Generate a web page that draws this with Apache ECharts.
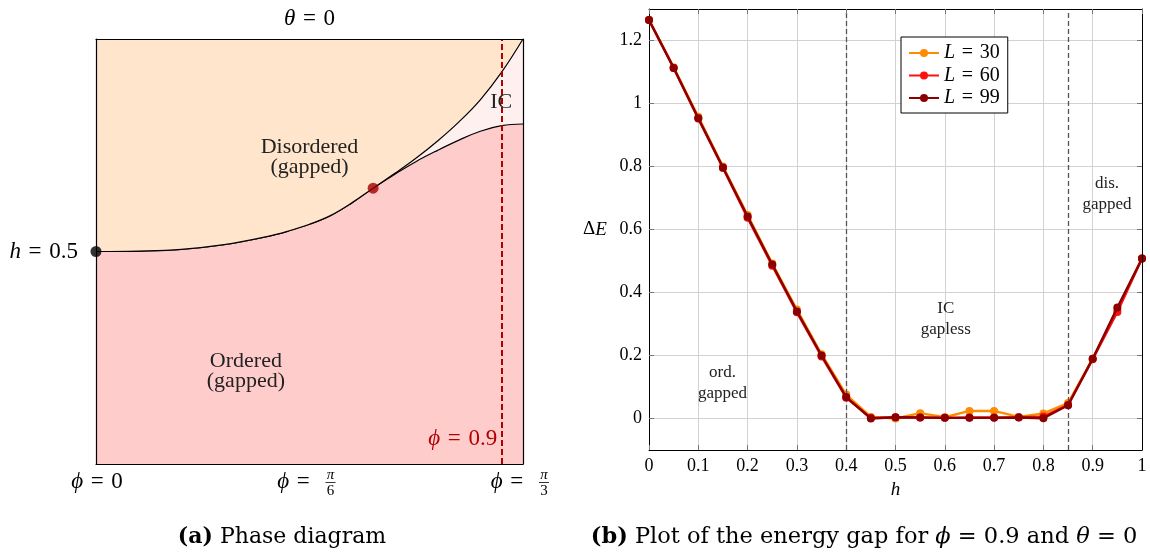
<!DOCTYPE html>
<html>
<head>
<meta charset="utf-8">
<script src="https://cdn.jsdelivr.net/npm/echarts@6/dist/echarts.min.js"></script>
<style>
  html, body { margin: 0; padding: 0; background: #fff; }
  #chart { width: 1150px; height: 553px; }
</style>
</head>
<body>
<div id="chart"></div>
<script>
// ---- Phase diagram (schematic coordinates: phi axis 0 -> pi/3 mapped to 0 -> 1, h from 0 to 1)
const phaseCommon = [[0, 0.5], [0.1, 0.501], [0.2, 0.505], [0.3, 0.516], [0.4, 0.535], [0.45, 0.548], [0.5, 0.564], [0.55, 0.585], [0.6, 0.615], [0.649, 0.649]];
const upperBranch = [[0.70, 0.684], [0.75, 0.720], [0.80, 0.760], [0.85, 0.805], [0.90, 0.857], [0.95, 0.922], [1.0, 1.0]];
const lowerBranch = [[0.70, 0.682], [0.75, 0.712], [0.80, 0.738], [0.85, 0.762], [0.90, 0.783], [0.95, 0.796], [1.0, 0.80]];
const isingPoint = [0, 0.5];
const criticalPoint = [0.649, 0.649];
const cutPhi = 0.949;

// ---- Energy gap vs h at phi = 0.9, theta = 0
const hValues = [0, 0.05, 0.1, 0.15, 0.2, 0.25, 0.3, 0.35, 0.4, 0.45, 0.5, 0.55, 0.6, 0.65, 0.7, 0.75, 0.8, 0.85, 0.9, 0.95, 1.0];
const gapL30 = [1.265, 1.115, 0.958, 0.800, 0.646, 0.492, 0.346, 0.204, 0.076, 0.005, 0.000, 0.017, 0.004, 0.024, 0.024, 0.005, 0.016, 0.049, 0.190, 0.345, 0.508];
const gapL60 = [1.265, 1.113, 0.952, 0.795, 0.637, 0.485, 0.337, 0.197, 0.066, 0.002, 0.004, 0.003, 0.002, 0.003, 0.003, 0.004, 0.006, 0.043, 0.188, 0.338, 0.508];
const gapL99 = [1.265, 1.113, 0.953, 0.797, 0.641, 0.489, 0.340, 0.200, 0.068, 0.000, 0.004, 0.003, 0.002, 0.002, 0.002, 0.003, 0.001, 0.042, 0.190, 0.352, 0.508];
const sizeNames = ['L = 30', 'L = 60', 'L = 99'];
const sizeColors = ['#FF8C00', '#FF1010', '#8B0000'];
const gapTicks = [0, 0.2, 0.4, 0.6, 0.8, 1, 1.2];
const phaseBoundaries = [0.4, 0.85];

const SERIF = "'Liberation Serif', 'DejaVu Serif', serif";
const CAPTION = "'DejaVu Serif', 'Liberation Serif', serif";
const EQ = '\u2004=\u2004';
const fmt = v => String(+v.toFixed(2));

const chart = echarts.init(document.getElementById('chart'), null, { renderer: 'canvas' });

function frameAxis(extra) {
  return Object.assign({
    type: 'value', z: 10,
    axisLine: { show: true, onZero: false, lineStyle: { color: '#000', width: 1.2 } },
    axisTick: { show: false }, axisLabel: { show: false }, splitLine: { show: false }
  }, extra);
}
function boxAxis(extra) {
  return Object.assign({
    type: 'value', z: 10,
    axisLine: { show: true, onZero: false, lineStyle: { color: '#000', width: 1 } },
    axisTick: { show: true, inside: true, length: 5, lineStyle: { color: '#777' } },
    axisLabel: { show: false }, splitLine: { show: false }
  }, extra);
}

const gapSeries = [gapL30, gapL60, gapL99].map((vals, i) => ({
  type: 'line',
  name: sizeNames[i],
  xAxisIndex: 2, yAxisIndex: 2,
  data: hValues.map((h, j) => [h, vals[j]]),
  symbol: 'circle', symbolSize: 8,
  itemStyle: { color: sizeColors[i] },
  lineStyle: { color: sizeColors[i], width: 2.4 },
  z: 3 + i
}));
gapSeries[2].markLine = {
  silent: true, symbol: 'none', label: { show: false },
  lineStyle: { color: '#555', type: [5, 3], width: 1.3 },
  data: phaseBoundaries.map(x => ({ xAxis: x }))
};

const option = {
  animation: false,
  grid: [
    { left: 96, top: 39, width: 427, height: 425, show: true, backgroundColor: '#FFF0F0', borderWidth: 0 },
    { left: 649, top: 9, width: 493, height: 441 }
  ],
  xAxis: [
    frameAxis({ gridIndex: 0, min: 0, max: 1, position: 'bottom' }),
    frameAxis({ gridIndex: 0, min: 0, max: 1, position: 'top' }),
    {
      gridIndex: 1, type: 'value', min: 0, max: 1, interval: 0.1, position: 'bottom',
      axisLine: { show: true, onZero: false, lineStyle: { color: '#000', width: 1 } },
      axisTick: { show: true, inside: true, length: 5, lineStyle: { color: '#777' } },
      axisLabel: { color: '#000', fontFamily: SERIF, fontSize: 18, margin: 7, formatter: fmt },
      splitLine: { show: true, lineStyle: { color: '#d2d2d2', width: 1 } }
    },
    boxAxis({ gridIndex: 1, min: 0, max: 1, interval: 0.1, position: 'top' })
  ],
  yAxis: [
    frameAxis({ gridIndex: 0, min: 0, max: 1, position: 'left' }),
    frameAxis({ gridIndex: 0, min: 0, max: 1, position: 'right' }),
    {
      gridIndex: 1, type: 'value', min: -0.1, max: 1.3, position: 'left',
      axisLine: { show: true, onZero: false, lineStyle: { color: '#000', width: 1 } },
      axisTick: { show: true, inside: true, length: 5, customValues: gapTicks, lineStyle: { color: '#777' } },
      axisLabel: { color: '#000', fontFamily: SERIF, fontSize: 18, margin: 7, customValues: gapTicks, formatter: fmt },
      splitLine: { show: true, lineStyle: { color: '#d2d2d2', width: 1 } }
    },
    boxAxis({
      gridIndex: 1, min: -0.1, max: 1.3, position: 'right',
      axisTick: { show: true, inside: true, length: 5, customValues: gapTicks, lineStyle: { color: '#777' } }
    })
  ],
  legend: {
    data: sizeNames,
    orient: 'vertical',
    left: 901, top: 37,
    padding: [6, 8, 5, 7],
    itemGap: 2.5,
    itemWidth: 30, itemHeight: 10,
    backgroundColor: '#fff',
    borderColor: '#000', borderWidth: 1, borderRadius: 0,
    textStyle: {
      fontFamily: SERIF, fontSize: 20, color: '#000', lineHeight: 20,
      rich: { i: { fontFamily: SERIF, fontSize: 20, fontStyle: 'italic', color: '#000' } }
    },
    formatter: name => '{i|L}' + EQ + name.split('= ')[1]
  },
  series: [
    {
      type: 'line', name: 'ordered', xAxisIndex: 0, yAxisIndex: 0,
      data: phaseCommon.concat(lowerBranch),
      smooth: 0.4, symbol: 'none',
      lineStyle: { color: '#000', width: 1.2 },
      areaStyle: { color: '#FFCCCC', origin: 'start', opacity: 1 },
      z: 2
    },
    {
      type: 'line', name: 'disordered', xAxisIndex: 0, yAxisIndex: 0,
      data: phaseCommon.concat(upperBranch),
      smooth: 0.4, symbol: 'none',
      lineStyle: { color: '#000', width: 1.2 },
      areaStyle: { color: '#FFE5CC', origin: 'end', opacity: 1 },
      markLine: {
        silent: true, symbol: 'none', label: { show: false },
        lineStyle: { color: '#B00000', type: [6, 3], width: 2 },
        data: [{ xAxis: cutPhi }]
      },
      z: 3
    },
    {
      type: 'scatter', xAxisIndex: 0, yAxisIndex: 0, symbolSize: 11, z: 6,
      data: [
        { value: isingPoint, itemStyle: { color: '#000' } },
        { value: criticalPoint, itemStyle: { color: '#A00000' } }
      ]
    }
  ].concat(gapSeries)
};

chart.setOption(option);

// ---- Text annotations placed through the grid coordinate systems
const px = (g, x, y) => chart.convertToPixel({ gridIndex: g }, [x, y]);
const mathRich = {
  i: { fontFamily: SERIF, fontStyle: 'italic', fontSize: 23, fill: '#000' },
  r: { fontFamily: SERIF, fontSize: 23, fill: '#000' }
};
function txt(x, y, text, style) {
  return { type: 'text', x: x, y: y, silent: true, z: 20, style: Object.assign({
    text: text, align: 'center', verticalAlign: 'middle', fill: '#000', fontFamily: SERIF, fontSize: 21
  }, style || {}) };
}
function phiLabel(cx, cy, denom) {
  const items = [];
  if (denom === null) {
    items.push(txt(cx + 1, cy, '{i|ϕ}{r|' + EQ + '0}', { rich: mathRich }));
  } else {
    items.push(txt(cx + 8, cy, '{i|ϕ}{r|' + EQ + '}', { rich: mathRich, align: 'right' }));
    const fx = cx + 21;
    items.push(txt(fx, cy - 7, 'π', { fontSize: 15, fontStyle: 'italic' }));
    items.push({ type: 'line', silent: true, z: 20, shape: { x1: fx - 5, y1: cy + 0.5, x2: fx + 5, y2: cy + 0.5 }, style: { stroke: '#000', lineWidth: 0.8 } });
    items.push(txt(fx, cy + 9, denom, { fontSize: 15 }));
  }
  return items;
}

const pTop = px(0, 0.5, 1);
const pHalf = px(0, 0, 0.5);
const p0 = px(0, 0, 0);
const p6 = px(0, 0.5, 0);
const p3 = px(0, 1, 0);
const pDis = px(0, 0.5, 0.722);
const pOrd = px(0, 0.351, 0.219);
const pIC = px(0, cutPhi, 0.852);
const pCut = px(0, cutPhi, 0.06);
const labelY = p0[1] + 18;

const qOrd = px(1, 0.149, 0.114);
const qIC = px(1, 0.602, 0.315);
const qDis = px(1, 0.929, 0.714);
const qMid = px(1, 0.5, 0.6);
const qBot = px(1, 0.5, -0.1);
const qLeft = px(1, 0, 0.6);

const annotRich = { fontSize: 17, fill: '#222', lineHeight: 21 };

const graphic = [
  txt(pTop[0], pTop[1] - 20, '{i|θ}{r|' + EQ + '0}', { rich: mathRich }),
  txt(pHalf[0] - 18, pHalf[1], '{i|h}{r|' + EQ + '0.5}', { rich: mathRich, align: 'right' }),
  txt(pDis[0], pDis[1], 'Disordered\n(gapped)', { fontSize: 22, lineHeight: 20, fill: '#222' }),
  txt(pOrd[0], pOrd[1], 'Ordered\n(gapped)', { fontSize: 22, lineHeight: 20, fill: '#222' }),
  txt(pIC[0], pIC[1], 'IC', { fontSize: 22, fill: '#222' }),
  txt(pCut[0] - 4, pCut[1], '{i|ϕ}{r|' + EQ + '0.9}', {
    align: 'right',
    rich: {
      i: { fontFamily: SERIF, fontStyle: 'italic', fontSize: 23, fill: '#B00000' },
      r: { fontFamily: SERIF, fontSize: 23, fill: '#B00000' }
    }
  }),
  ...phiLabel(p0[0], labelY, null),
  ...phiLabel(p6[0], labelY, '6'),
  ...phiLabel(p3[0], labelY, '3'),

  txt(qOrd[0], qOrd[1], 'ord.\ngapped', annotRich),
  txt(qIC[0], qIC[1], 'IC\ngapless', annotRich),
  txt(qDis[0], qDis[1], 'dis.\ngapped', annotRich),
  txt(qLeft[0] - 54, qMid[1], '{r|Δ}{i|E}', {
    rich: {
      r: { fontFamily: SERIF, fontSize: 19, fill: '#000' },
      i: { fontFamily: SERIF, fontSize: 19, fontStyle: 'italic', fill: '#000' }
    }
  }),
  txt(qBot[0], qBot[1] + 40, 'h', { fontSize: 19, fontStyle: 'italic' }),

  txt(282, 537, '{b|(a)} Phase diagram', {
    fontFamily: CAPTION, fontSize: 22,
    rich: { b: { fontFamily: CAPTION, fontSize: 22, fontWeight: 'bold', fill: '#000' } }
  }),
  txt(864, 537, '{b|(b)} Plot of the energy gap for {i|ϕ} = 0.9 and {i|θ} = 0', {
    fontFamily: CAPTION, fontSize: 22.5,
    rich: {
      b: { fontFamily: CAPTION, fontSize: 22.5, fontWeight: 'bold', fill: '#000' },
      i: { fontFamily: CAPTION, fontSize: 22.5, fontStyle: 'italic', fill: '#000' }
    }
  })
];

chart.setOption({ graphic: graphic });
</script>
</body>
</html>
